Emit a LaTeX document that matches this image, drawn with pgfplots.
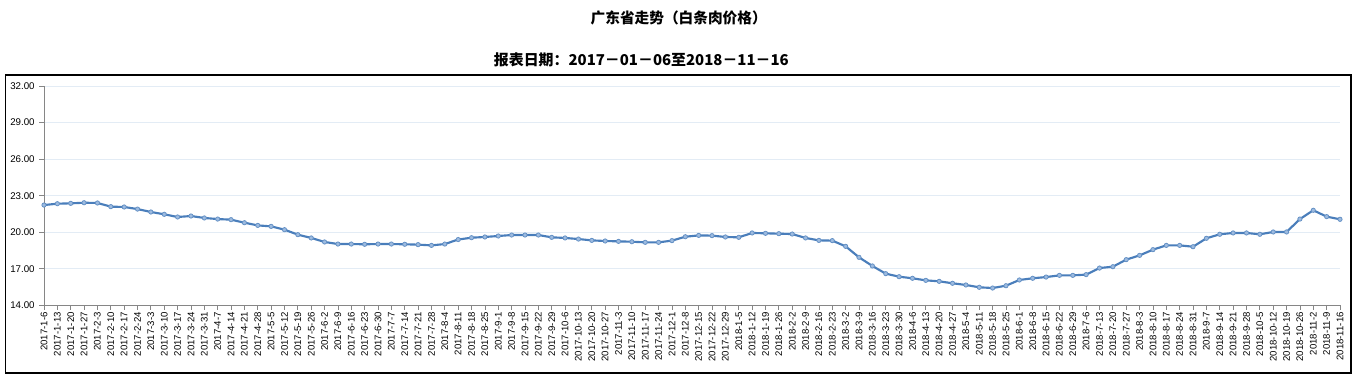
\documentclass[border=0pt]{standalone}
\usepackage{pgfplots}
\pgfplotsset{compat=1.18}
\usepackage{fontspec}
\setmainfont{Liberation Sans}
\newfontfamily\cjk{Noto Sans CJK SC}
\definecolor{lineblue}{HTML}{4A7EBB}
\definecolor{markfill}{HTML}{9DBBE0}
\definecolor{gridc}{HTML}{E3ECF5}
\definecolor{axisgray}{HTML}{868686}
\begin{document}
\begin{tikzpicture}
\path (0pt,0pt) rectangle (1017pt,283.5pt);
\draw[black, line width=0.9pt] (4.1pt,3.75pt) rectangle (1013.25pt,227.25pt);
\node[font=\cjk\bfseries\fontsize{11}{13}\selectfont] at (509pt,270pt) {广东省走势（白条肉价格）};
\node[font=\cjk\bfseries\fontsize{11.2}{13}\selectfont] at (481pt,238.5pt) {报表日期：2017－01－06至2018－11－16};
\begin{axis}[
  at={(33pt,54.5pt)}, anchor=origin,
  scale only axis, width=972pt, height=164.5pt,
  xmin=0, xmax=97, ymin=14, ymax=32,
  axis lines*=left,
  axis line style={axisgray, line width=0.6pt},
  tick style={axisgray, line width=0.6pt},
  tick align=outside, major tick length=3.5pt,
  ytick={14,17,20,23,26,29,32},
  ymajorgrids, grid style={gridc, line width=0.6pt},
  yticklabel style={font=\fontsize{7.3}{8}\selectfont, /pgf/number format/.cd, fixed, fixed zerofill, precision=2, assume math mode=true},
  xtick={0,...,97},
  xticklabel style={font=\fontsize{7.2}{8}\selectfont, rotate=90, anchor=east, inner sep=1.5pt},
  xticklabels={2017-1-6,2017-1-13,2017-1-20,2017-1-27,2017-2-3,2017-2-10,2017-2-17,2017-2-24,2017-3-3,2017-3-10,2017-3-17,2017-3-24,2017-3-31,2017-4-7,2017-4-14,2017-4-21,2017-4-28,2017-5-5,2017-5-12,2017-5-19,2017-5-26,2017-6-2,2017-6-9,2017-6-16,2017-6-23,2017-6-30,2017-7-7,2017-7-14,2017-7-21,2017-7-28,2017-8-4,2017-8-11,2017-8-18,2017-8-25,2017-9-1,2017-9-8,2017-9-15,2017-9-22,2017-9-29,2017-10-6,2017-10-13,2017-10-20,2017-10-27,2017-11-3,2017-11-10,2017-11-17,2017-11-24,2017-12-1,2017-12-8,2017-12-15,2017-12-22,2017-12-29,2018-1-5,2018-1-12,2018-1-19,2018-1-26,2018-2-2,2018-2-9,2018-2-16,2018-2-23,2018-3-2,2018-3-9,2018-3-16,2018-3-23,2018-3-30,2018-4-6,2018-4-13,2018-4-20,2018-4-27,2018-5-4,2018-5-11,2018-5-18,2018-5-25,2018-6-1,2018-6-8,2018-6-15,2018-6-22,2018-6-29,2018-7-6,2018-7-13,2018-7-20,2018-7-27,2018-8-3,2018-8-10,2018-8-17,2018-8-24,2018-8-31,2018-9-7,2018-9-14,2018-9-21,2018-9-28,2018-10-5,2018-10-12,2018-10-19,2018-10-26,2018-11-2,2018-11-9,2018-11-16},
  clip=false,
]
\addplot[lineblue, line width=1.6pt, mark=*, mark size=1.6pt, mark options={solid, fill=markfill, draw=lineblue!85, line width=0.6pt}] coordinates {
(0,22.23)(1,22.34)(2,22.37)(3,22.42)(4,22.40)(5,22.10)(6,22.07)(7,21.90)(8,21.66)(9,21.47)
(10,21.25)(11,21.33)(12,21.17)(13,21.08)(14,21.03)(15,20.78)(16,20.56)(17,20.48)(18,20.21)(19,19.80)
(20,19.53)(21,19.20)(22,19.03)(23,19.03)(24,19.01)(25,19.03)(26,19.03)(27,19.01)(28,18.98)(29,18.92)
(30,19.03)(31,19.40)(32,19.55)(33,19.61)(34,19.69)(35,19.77)(36,19.77)(37,19.77)(38,19.58)(39,19.53)
(40,19.44)(41,19.33)(42,19.28)(43,19.25)(44,19.22)(45,19.17)(46,19.17)(47,19.31)(48,19.63)(49,19.74)
(50,19.72)(51,19.61)(52,19.58)(53,19.94)(54,19.91)(55,19.88)(56,19.85)(57,19.53)(58,19.33)(59,19.31)
(60,18.84)(61,17.94)(62,17.23)(63,16.60)(64,16.35)(65,16.22)(66,16.05)(67,15.97)(68,15.81)(69,15.67)
(70,15.48)(71,15.42)(72,15.61)(73,16.08)(74,16.22)(75,16.32)(76,16.46)(77,16.46)(78,16.52)(79,17.06)
(80,17.17)(81,17.75)(82,18.10)(83,18.57)(84,18.92)(85,18.92)(86,18.81)(87,19.50)(88,19.83)(89,19.94)
(90,19.94)(91,19.83)(92,20.02)(93,20.02)(94,21.08)(95,21.80)(96,21.28)(97,21.06)
};
\end{axis}
\end{tikzpicture}
\end{document}
